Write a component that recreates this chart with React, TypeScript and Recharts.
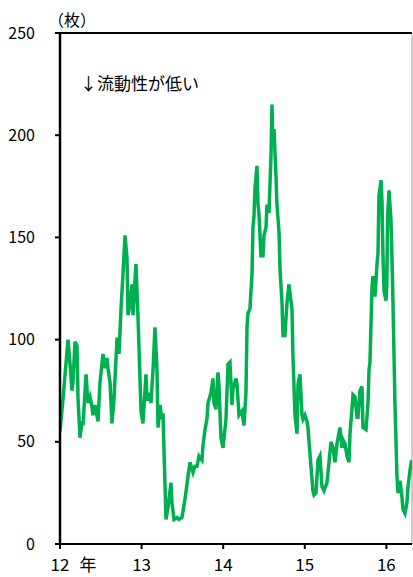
import React from 'react';
import { LineChart, Line, XAxis, YAxis, ReferenceLine } from 'recharts';

// weekly readings, decimal year -> number of lots (枚)
const t2012 = [12.0, 12.037, 12.098, 12.123, 12.147, 12.159, 12.184, 12.208, 12.221, 12.245, 12.27, 12.282, 12.319, 12.343, 12.368, 12.392, 12.404, 12.429, 12.466, 12.49, 12.527, 12.551, 12.576, 12.588, 12.613, 12.637, 12.662, 12.699, 12.723, 12.748, 12.772, 12.797, 12.821, 12.833, 12.858, 12.882, 12.895, 12.931, 12.956, 12.993];
const v2012 = [55, 71, 100, 88, 75, 79, 99, 97, 71, 52, 60, 58, 83, 69, 72, 67, 63, 68, 60, 79, 93, 86, 91, 86, 79, 59, 71, 101, 93, 115, 132, 151, 140, 112, 117, 127, 112, 137, 111, 65];

const t2013 = [13.017, 13.054, 13.066, 13.091, 13.115, 13.14, 13.164, 13.189, 13.201, 13.225, 13.25, 13.262, 13.299, 13.324, 13.36, 13.373, 13.397, 13.434, 13.458, 13.495, 13.532, 13.569, 13.593, 13.63, 13.654, 13.679, 13.703, 13.74, 13.752, 13.777, 13.801, 13.814, 13.85, 13.875, 13.887, 13.912, 13.936, 13.949, 13.973, 13.998];
const v2013 = [59, 83, 70, 74, 69, 85, 106, 85, 57, 68, 61, 64, 12, 18, 30, 20, 12, 13, 12, 13, 22, 33, 40, 35, 38, 38, 43, 41, 48, 56, 61, 69, 74, 81, 69, 66, 84, 77, 52, 47];

const t2014 = [14.034, 14.059, 14.083, 14.108, 14.12, 14.157, 14.169, 14.194, 14.23, 14.255, 14.279, 14.292, 14.304, 14.328, 14.353, 14.365, 14.377, 14.39, 14.414, 14.426, 14.439, 14.463, 14.488, 14.5, 14.525, 14.537, 14.561, 14.586, 14.598, 14.61, 14.623, 14.647, 14.659, 14.684, 14.696, 14.721, 14.733, 14.757, 14.782, 14.806, 14.843, 14.855, 14.88, 14.904, 14.917, 14.941, 14.966, 14.978];
const v2014 = [61, 88, 89, 68, 76, 81, 78, 63, 65, 58, 74, 106, 113, 115, 132, 155, 160, 174, 185, 167, 161, 141, 141, 151, 155, 166, 162, 190, 215, 194, 203, 180, 166, 153, 135, 118, 102, 102, 118, 127, 115, 92, 63, 54, 78, 83, 63, 61];

const t2015 = [15.002, 15.027, 15.039, 15.064, 15.1, 15.113, 15.137, 15.162, 15.186, 15.211, 15.235, 15.272, 15.297, 15.321, 15.346, 15.37, 15.395, 15.431, 15.456, 15.468, 15.493, 15.517, 15.542, 15.554, 15.578, 15.591, 15.615, 15.64, 15.652, 15.676, 15.701, 15.713, 15.75, 15.775, 15.787, 15.799, 15.824, 15.836, 15.86, 15.885, 15.897, 15.909, 15.934, 15.946, 15.958, 15.971, 15.995];
const v2015 = [63, 60, 57, 44, 26, 24, 25, 41, 43, 28, 26, 30, 40, 50, 47, 40, 49, 57, 47, 51, 49, 43, 40, 54, 66, 73, 72, 62, 62, 75, 77, 57, 56, 69, 85, 89, 126, 131, 121, 137, 142, 170, 178, 168, 142, 124, 119];

const t2016 = [16.005, 16.015, 16.032, 16.056, 16.069, 16.081, 16.105, 16.13, 16.142, 16.167, 16.191, 16.203, 16.228, 16.252, 16.265, 16.289, 16.31];
const v2016 = [126, 160, 173, 159, 139, 118, 69, 33, 25, 31, 23, 17, 15, 20, 28, 36, 41];

const yTicks = [0, 50, 100, 150, 200, 250];
const xTicks = [12, 13, 14, 15, 16];
const xEnd = 16.314;

const data = [
  ...t2012.map((t, i) => ({ t, v: v2012[i] })),
  ...t2013.map((t, i) => ({ t, v: v2013[i] })),
  ...t2014.map((t, i) => ({ t, v: v2014[i] })),
  ...t2015.map((t, i) => ({ t, v: v2015[i] })),
  ...t2016.map((t, i) => ({ t, v: v2016[i] })),
];

const FONT = '"Noto Sans CJK JP", "Noto Sans", sans-serif';

const XTick = (props: any) => {
  const { x, y, payload } = props;
  return (
    <g>
      <text x={x} y={y} dy="0.71em" textAnchor="middle" fontSize={17} fill="#000" fontFamily={FONT}>
        {payload.value}
      </text>
      {payload.value === 12 && (
        <text x={x + 28} y={y} dy="0.71em" textAnchor="middle" fontSize={17} fill="#000" fontFamily={FONT}>
          年
        </text>
      )}
    </g>
  );
};

export default function App() {
  return (
    <div style={{ position: 'relative', width: 413, height: 577, background: '#fff', fontFamily: FONT }}>
      <style>{`body{margin:0}`}</style>
      <LineChart width={413} height={577} data={data} margin={{ top: 33, right: 1, bottom: 0, left: 0 }}>
        <XAxis
          dataKey="t"
          type="number"
          domain={[12, xEnd]}
          ticks={xTicks}
          allowDataOverflow
          height={33}
          tickSize={5}
          tickMargin={10}
          axisLine={{ stroke: '#000', strokeWidth: 2 }}
          tickLine={{ stroke: '#000', strokeWidth: 2 }}
          tick={<XTick />}
        />
        <YAxis
          domain={[0, 250]}
          ticks={yTicks}
          width={60}
          tickSize={5}
          tickMargin={20}
          axisLine={{ stroke: '#000', strokeWidth: 2.5 }}
          tickLine={{ stroke: '#000', strokeWidth: 2 }}
          tick={{ fill: '#000', fontSize: 16, fontFamily: FONT }}
        />
        <ReferenceLine y={250} stroke="#000" strokeWidth={2} />
        <ReferenceLine x={xEnd} stroke="#999" strokeWidth={1} />
        <Line
          type="linear"
          dataKey="v"
          stroke="#00B050"
          strokeWidth={3.5}
          dot={false}
          isAnimationActive={false}
        />
      </LineChart>
      <div style={{ position: 'absolute', left: 48, top: 11, fontSize: 16, lineHeight: '16px', color: '#000' }}>
        （枚）
      </div>
      <div style={{ position: 'absolute', left: 80, top: 74, fontSize: 17, lineHeight: '17px', color: '#000' }}>
        ↓流動性が低い
      </div>
    </div>
  );
}
